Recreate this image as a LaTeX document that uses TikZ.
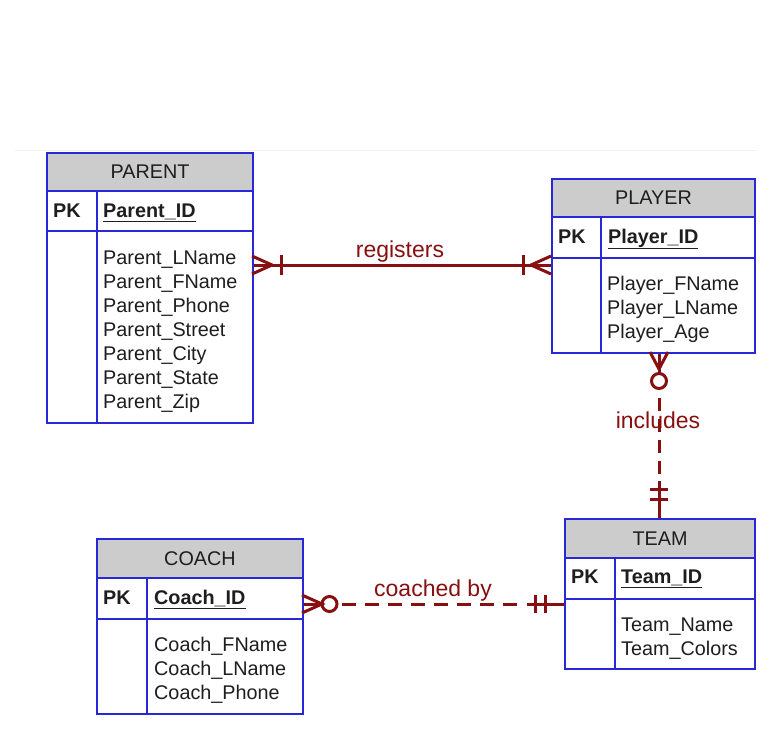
\documentclass[tikz,border=0pt]{standalone}
\usepackage{fontspec}
\setmainfont{Liberation Sans}
\definecolor{erblue}{RGB}{40,40,215}
\definecolor{ergray}{RGB}{204,204,204}
\definecolor{erred}{RGB}{135,15,15}
\definecolor{ertext}{RGB}{30,30,30}
\newcommand\ertab[9]{%
 \node[hdr, anchor=north west, minimum width={#3-#2}, minimum height={#6-#5}] (#1-h) at (#2,#5) {#9};
 \node[cellbox, anchor=north west, minimum width={#4-#2}, minimum height={#7-#6}] (#1-pkl) at (#2,#6) {};
 \node[cellbox, anchor=north west, minimum width={#3-#4}, minimum height={#7-#6}] (#1-pkr) at (#4,#6) {};
 \node[cellbox, anchor=north west, minimum width={#4-#2}, minimum height={#8-#7}] (#1-bl) at (#2,#7) {};
 \node[cellbox, anchor=north west, minimum width={#3-#4}, minimum height={#8-#7}] (#1-br) at (#4,#7) {};
}
\tikzset{
  hdr/.style={draw=erblue, line width=2pt, fill=ergray, inner sep=0pt, text=ertext, font=\fontsize{19.8}{23}\selectfont},
  cellbox/.style={draw=erblue, line width=2pt, fill=white, inner sep=0pt},
  txt/.style={inner sep=0pt, anchor=base west, text=ertext, font=\fontsize{19.8}{23}\selectfont},
  pktxt/.style={txt, font=\fontsize{19.8}{23}\selectfont\bfseries},
  rel/.style={draw=erred, line width=3pt},
  lbl/.style={inner sep=0pt, anchor=base, text=erred, font=\fontsize{23}{27}\selectfont},
}
\begin{document}
\begin{tikzpicture}[x=1pt,y=-1pt]
\useasboundingbox (0,0) rectangle (776,753);
\draw[black!5, line width=1pt] (15,150) -- (757,150);

% tables
\ertab{parent}{46}{252}{96}{152}{190}{230}{422}{PARENT}
\ertab{player}{551}{754}{600}{178}{216}{257}{352}{PLAYER}
\ertab{team}{564}{754}{614}{518}{557}{598}{668}{TEAM}
\ertab{coach}{96}{302}{146}{538}{577}{618}{713}{COACH}

% PARENT texts
\node[pktxt] (parent-pk) at (53,217) {PK};
\node[pktxt] (parent-id) at (103,217) {\underline{Parent\_ID}};
\foreach \t [count=\i] in {Parent\_LName,Parent\_FName,Parent\_Phone,Parent\_Street,Parent\_City,Parent\_State,Parent\_Zip}
  \node[txt] (parent-a\i) at (103,240+24*\i) {\t};

% PLAYER texts
\node[pktxt] (player-pk) at (558,243) {PK};
\node[pktxt] (player-id) at (608,243) {\underline{Player\_ID}};
\foreach \t [count=\i] in {Player\_FName,Player\_LName,Player\_Age}
  \node[txt] (player-a\i) at (607,266+24*\i) {\t};

% TEAM texts
\node[pktxt] (team-pk) at (571,583) {PK};
\node[pktxt] (team-id) at (621,583) {\underline{Team\_ID}};
\foreach \t [count=\i] in {Team\_Name,Team\_Colors}
  \node[txt] (team-a\i) at (621,607+24*\i) {\t};

% COACH texts
\node[pktxt] (coach-pk) at (103,604) {PK};
\node[pktxt] (coach-id) at (154,604) {\underline{Coach\_ID}};
\foreach \t [count=\i] in {Coach\_FName,Coach\_LName,Coach\_Phone}
  \node[txt] (coach-a\i) at (154,627+24*\i) {\t};

% registers (PARENT -- PLAYER)
\coordinate (regy) at (0,265);
\draw[rel] (parent-br.east |- regy) -- (player-bl.west |- regy);
\draw[rel] (252,256) -- (272,265) -- (252,274);
\draw[rel] (281,255) -- (281,275);
\draw[rel] (551,256) -- (531,265) -- (551,274);
\draw[rel] (523,255) -- (523,275);
\node[lbl] (l-reg) at (400,257) {registers};

% includes (PLAYER -- TEAM)
\coordinate (incx) at (659,0);
\draw[rel] (player-br.south -| incx) -- (659,373.5);
\draw[rel] (650,352) -- (659,369) -- (668,352);
\draw[rel] (659,381) circle[radius=7.5];
\draw[rel, dash pattern=on 13pt off 8pt] (659,398) -- (659,478);
\draw[rel] (659,481) -- (team-h.north -| incx);
\draw[rel] (650,489) -- (668,489);
\draw[rel] (650,499) -- (668,499);
\node[lbl] (l-inc) at (658,428) {includes};

% coached by (COACH -- TEAM)
\coordinate (coy) at (0,604);
\draw[rel] (coach-br.east |- coy) -- (322,604);
\draw[rel] (302,595) -- (322,604) -- (302,613);
\draw[rel] (329.5,604) circle[radius=7.5];
\draw[rel, dash pattern=on 14pt off 9pt] (342,604) -- (524,604);
\draw[rel] (527,604) -- (team-bl.west |- coy);
\draw[rel] (535,595) -- (535,613);
\draw[rel] (545,595) -- (545,613);
\node[lbl] (l-coach) at (433,596) {coached by};
\end{tikzpicture}
\end{document}
